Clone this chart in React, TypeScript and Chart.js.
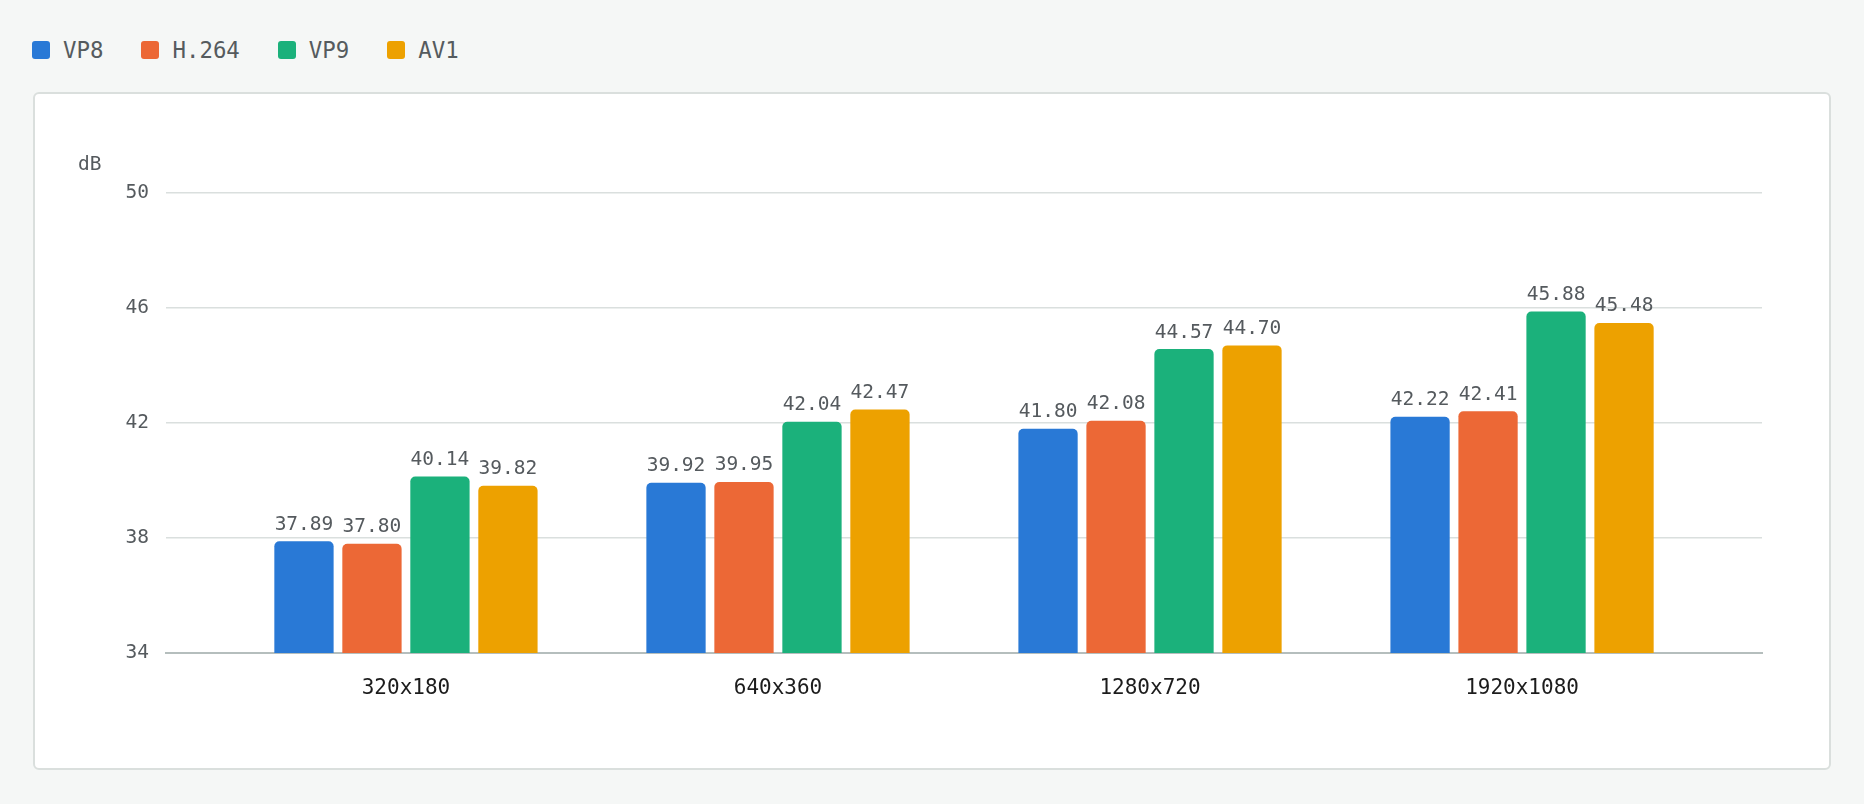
import { useEffect, useRef } from 'react';
import { Chart, registerables } from 'chart.js';

Chart.register(...registerables);

const resolutions = ['320x180', '640x360', '1280x720', '1920x1080'];
const vp8 = [37.89, 39.92, 41.8, 42.22];
const h264 = [37.8, 39.95, 42.08, 42.41];
const vp9 = [40.14, 42.04, 44.57, 45.88];
const av1 = [39.82, 42.47, 44.7, 45.48];
const dbTicks = [34, 38, 42, 46, 50];

const series = [
  { label: 'VP8', values: vp8, color: '#2979d6' },
  { label: 'H.264', values: h264, color: '#ec6836' },
  { label: 'VP9', values: vp9, color: '#1bb17b' },
  { label: 'AV1', values: av1, color: '#eda100' },
];

const MONO = '"DejaVu Sans Mono", monospace';

// value printed above each bar
const valueLabels = {
  id: 'valueLabels',
  afterDatasetsDraw(chart: Chart) {
    const { ctx } = chart;
    ctx.save();
    ctx.font = `19.5px ${MONO}`;
    ctx.fillStyle = '#555a5e';
    ctx.textAlign = 'center';
    ctx.textBaseline = 'alphabetic';
    series.forEach((s, i) => {
      chart.getDatasetMeta(i).data.forEach((bar: any, j) => {
        ctx.fillText(s.values[j].toFixed(2), bar.x, bar.y - 11.5);
      });
    });
    ctx.restore();
  },
};

// unit label sitting above the y ticks
const unitLabel = {
  id: 'unitLabel',
  afterDraw(chart: Chart) {
    const { ctx, chartArea } = chart;
    ctx.save();
    ctx.font = `19.5px ${MONO}`;
    ctx.fillStyle = '#555a5e';
    ctx.textAlign = 'left';
    ctx.textBaseline = 'alphabetic';
    ctx.fillText('dB', chartArea.left - 88, chartArea.top - 22.6);
    ctx.restore();
  },
};

const Legend = () => (
  <div style={{ position: 'absolute', left: 32, top: 41, display: 'flex', alignItems: 'center', height: 18 }}>
    {series.map((s) => (
      <div key={s.label} style={{ display: 'flex', alignItems: 'center', marginRight: 38 }}>
        <span style={{ width: 18, height: 18, borderRadius: 3, background: s.color, marginRight: 13 }} />
        <span style={{ font: `22.4px ${MONO}`, color: '#555b5e', lineHeight: '18px' }}>{s.label}</span>
      </div>
    ))}
  </div>
);

const App = () => {
  const canvasRef = useRef<HTMLCanvasElement | null>(null);

  useEffect(() => {
    const canvas = canvasRef.current;
    if (!canvas) return;
    const chart = new Chart(canvas, {
      type: 'bar',
      data: {
        datasets: series.map((s) => ({
          label: s.label,
          data: s.values.map((v, i) => ({ x: i, y: v })),
          backgroundColor: s.color,
          borderRadius: 5,
          categoryPercentage: 0.731,
          barPercentage: 0.872,
        })),
      },
      options: {
        animation: false,
        responsive: false,
        layout: { padding: { left: 0, right: 69, top: 101, bottom: 0 } },
        plugins: {
          legend: { display: false },
          tooltip: { enabled: false },
        },
        scales: {
          x: {
            type: 'linear',
            offset: false,
            min: -0.645,
            max: 3.645,
            afterBuildTicks: (scale: any) => {
              scale.ticks = resolutions.map((_, i) => ({ value: i }));
            },
            afterFit: (scale: any) => {
              scale.height = 117;
            },
            grid: { display: false, offset: false },
            border: { color: '#b5bebd', width: 2 },
            ticks: {
              autoSkip: false,
              maxRotation: 0,
              padding: 15,
              color: '#1c1c1c',
              font: { family: MONO, size: 21 },
              callback: (v: any) => resolutions[v] ?? '',
            },
          },
          y: {
            min: 34,
            max: 50,
            afterBuildTicks: (scale: any) => {
              scale.ticks = dbTicks.map((v) => ({ value: v }));
            },
            afterFit: (scale: any) => {
              scale.width = 133;
            },
            grid: { color: '#dadfde', lineWidth: 1.5, drawTicks: false },
            border: { display: false },
            ticks: {
              padding: 17,
              color: '#555a5e',
              font: { family: MONO, size: 19.5 },
            },
          },
        },
      },
      plugins: [valueLabels, unitLabel],
    });
    return () => chart.destroy();
  }, []);

  return (
    <div style={{ position: 'fixed', left: 0, top: 0, width: 1864, height: 804, background: '#f5f7f6' }}>
      <Legend />
      <div
        style={{
          position: 'absolute',
          left: 33,
          top: 92,
          width: 1798,
          height: 678,
          boxSizing: 'border-box',
          background: '#ffffff',
          border: '2px solid #dadfdd',
          borderRadius: 6,
        }}
      />
      <canvas ref={canvasRef} width={1798} height={678} style={{ position: 'absolute', left: 33, top: 92 }} />
    </div>
  );
};

export default App;
